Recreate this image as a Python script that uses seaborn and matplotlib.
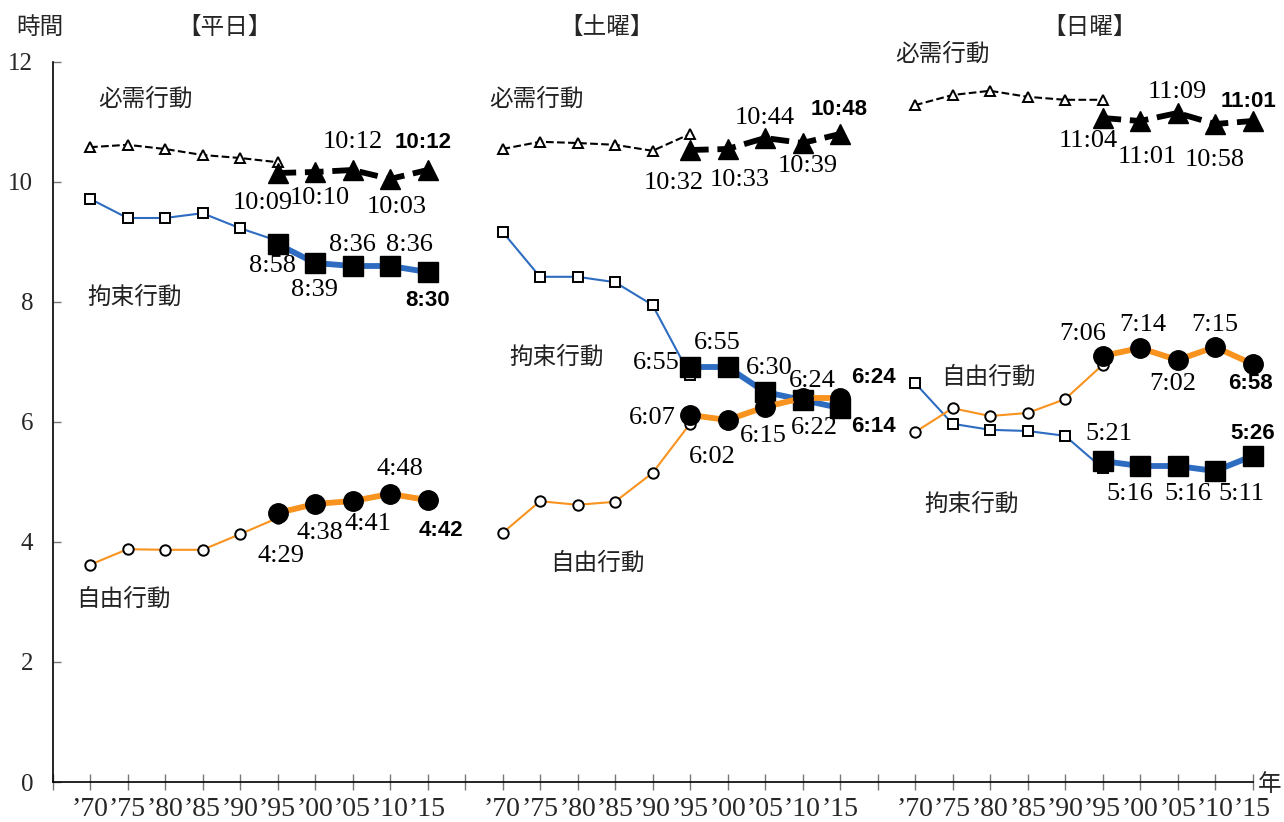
import numpy as np
import pandas as pd
import matplotlib
matplotlib.use('Agg')
import matplotlib.pyplot as plt
import seaborn as sns

sns.set_theme(style='white')
plt.rcParams['font.family'] = ['Noto Sans CJK JP', 'DejaVu Sans']

years = ["\u201970", "\u201975", "\u201980", "\u201985", "\u201990",
         "\u201995", "\u201900", "\u201905", "\u201910", "\u201915"]
days = ['【平日】', '【土曜】', '【日曜】']
acts = ['必需行動', '拘束行動', '自由行動']

# old survey method 1970-1995, hours
old_hissu = [[10.58, 10.62, 10.55, 10.45, 10.40, 10.33],
             [10.55, 10.67, 10.65, 10.62, 10.52, 10.80],
             [11.28, 11.45, 11.52, 11.42, 11.37, 11.37]]
old_kosoku = [[9.72, 9.40, 9.40, 9.48, 9.23, 9.02],
              [9.17, 8.42, 8.42, 8.33, 7.95, 6.78],
              [6.65, 5.97, 5.87, 5.85, 5.77, 5.23]]
old_jiyu = [[3.62, 3.88, 3.87, 3.87, 4.13, 4.40],
            [4.15, 4.68, 4.62, 4.67, 5.15, 5.97],
            [5.83, 6.23, 6.10, 6.15, 6.38, 6.95]]

# new survey method 1995-2015, h:mm
new_hissu = [['10:09', '10:10', '10:12', '10:03', '10:12'],
             ['10:32', '10:33', '10:44', '10:39', '10:48'],
             ['11:04', '11:01', '11:09', '10:58', '11:01']]
new_kosoku = [['8:58', '8:39', '8:36', '8:36', '8:30'],
              ['6:55', '6:55', '6:30', '6:22', '6:14'],
              ['5:21', '5:16', '5:16', '5:11', '5:26']]
new_jiyu = [['4:29', '4:38', '4:41', '4:48', '4:42'],
            ['6:07', '6:02', '6:15', '6:24', '6:24'],
            ['7:06', '7:14', '7:02', '7:15', '6:58']]

# label offsets in pixels (right, down) from each new point
hissu_off = [[(-15, 30), (5, 26), (0, -28), (7, 28), (-4, -28)],
             [(-16, 33), (12, 31), (0, -20), (5, 23), (-1, -24)],
             [(-14, 23), (7, 36), (0, -21), (0, 36), (-4, -19)]]
kosoku_off = [[(-5, 22), (0, 27), (0, -21), (19, -21), (0, 28)],
              [(-34, -4), (-10, -24), (4, -24), (12, 28), (33, 19)],
              [(6, -27), (-10, 28), (10, 28), (26, 23), (0, -22)]]
jiyu_off = [[(4, 43), (5, 29), (15, 23), (10, -25), (13, 30)],
            [(-38, 3), (-15, 37), (-2, 29), (10, -17), (33, -20)],
            [(-20, -22), (3, -23), (-5, 24), (0, -22), (-2, 20)]]

# name label positions (x index, hours)
name_pos = {'必需行動': [(1.47, 11.37), (11.92, 11.37), (22.72, 12.12)],
            '拘束行動': [(1.2, 8.07), (12.45, 7.07), (23.52, 4.63)],
            '自由行動': [(0.88, 3.05), (13.52, 3.65), (23.95, 6.75)]}


def to_hours(s):
    h, m = s.split(':')
    return int(h) + int(m) / 60


BLUE = '#2D6CC0'
ORANGE = '#F7931E'
styles = [
    (old_hissu, new_hissu, hissu_off, 'black', '^', '--', (0, (3.2, 1.5))),
    (old_kosoku, new_kosoku, kosoku_off, BLUE, 's', '-', '-'),
    (old_jiyu, new_jiyu, jiyu_off, ORANGE, 'o', '-', '-'),
]

fig = plt.figure(figsize=(12.84, 8.22), dpi=100)
ax = fig.add_axes([52.5 / 1284, 1 - 782 / 822, 1200 / 1284, 720 / 822])

for p in range(3):
    base = p * 11
    for old, new, offs, col, mk, ls_old, ls_new in styles:
        x_old = [base + j for j in range(6)]
        sns.lineplot(x=x_old, y=old[p], ax=ax, color=col, lw=1.5, linestyle=ls_old,
                     marker=mk, ms=7.5, mfc='white', mec='black', mew=1.4, zorder=2)
        x_new = [base + 5 + j for j in range(5)]
        y_new = [to_hours(s) for s in new[p]]
        sns.lineplot(x=x_new, y=y_new, ax=ax, color=col, lw=4.2, linestyle=ls_new,
                     marker=mk, ms=14, mfc='black', mec='black', mew=1, zorder=3,
                     clip_on=False)
        for j, (s, (dx, dy)) in enumerate(zip(new[p], offs[p])):
            if j == 4:
                kw = dict(fontfamily='Liberation Sans', fontweight='bold', fontsize=16)
            else:
                kw = dict(fontfamily='Liberation Serif', fontsize=19)
            ax.annotate(s, (x_new[j], y_new[j]), xytext=(dx, -dy), textcoords='offset pixels',
                        ha='center', va='center', color='black', zorder=5, **kw)

for name, pos in name_pos.items():
    for (x, y) in pos:
        ax.text(x, y, name, fontsize=17, ha='center', va='center', color='#222222')

ax.set_xlim(-1, 31)
ax.set_ylim(0, 12)
ticks = list(range(-1, 32))
labels = []
for t in ticks:
    if t >= 0 and t % 11 != 10:
        labels.append(years[t % 11])
    else:
        labels.append('')
ax.set_xticks(ticks)
ax.set_xticklabels(labels, fontfamily='Liberation Serif', fontsize=20)
ax.set_yticks(range(0, 13, 2))
ax.set_yticklabels([str(v) for v in range(0, 13, 2)], fontfamily='Liberation Serif', fontsize=18)
ax.tick_params(axis='x', direction='inout', length=12, width=1, color='#777777', pad=5)
ax.tick_params(axis='y', direction='in', length=6, width=1, color='#777777', pad=14)
ax.tick_params(axis='y', left=True)
ax.tick_params(axis='x', bottom=True)
sns.despine(ax=ax)
for sp in ['left', 'bottom']:
    ax.spines[sp].set_color('black')
    ax.spines[sp].set_linewidth(1.2)
ax.set_xlabel('')
ax.set_ylabel('')

fig.text(40 / 1284, 1 - 27 / 822, '時間', fontsize=17, ha='center', va='center')
for (xp, d) in zip([225, 607, 1090], days):
    fig.text(xp / 1284, 1 - 27 / 822, d, fontsize=17, ha='center', va='center')
fig.text(1270 / 1284, 1 - 784 / 822, '年', fontsize=17, ha='center', va='center')

fig.savefig('out.png', dpi=100)
